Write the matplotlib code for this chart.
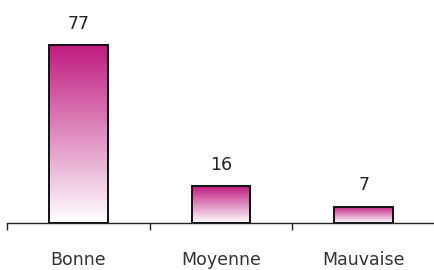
import numpy as np
import matplotlib
matplotlib.use("Agg")
import matplotlib.pyplot as plt
from matplotlib.colors import LinearSegmentedColormap

categories = ["Bonne", "Moyenne", "Mauvaise"]
values = [77, 16, 7]

top_color = "#C01B80"
cmap = LinearSegmentedColormap.from_list("grad", ["#FFFFFF", top_color])

fig = plt.figure(figsize=(4.35, 2.7), dpi=100)
ax = fig.add_axes([7 / 435, 47 / 270, 1 - 7 / 435, 223 / 270])

x = np.arange(len(categories))
bars = ax.bar(x, values, width=0.41, facecolor="none", edgecolor="#111111",
              linewidth=1.4, zorder=3)

# gradient fill, white at the bottom to magenta at the top of each bar
grad = np.linspace(0, 1, 256).reshape(-1, 1)
for b in bars:
    x0, w, h = b.get_x(), b.get_width(), b.get_height()
    im = ax.imshow(grad, cmap=cmap, origin="lower", aspect="auto",
                   extent=(x0, x0 + w, 0, h), zorder=2)
    im.set_clip_path(b)

for xi, v in zip(x, values):
    ax.annotate(str(v), (xi, v), xytext=(0, 9), textcoords="offset points",
                ha="center", va="bottom", fontsize=12.5, color="#222222")

ax.set_xlim(-0.5, 2.45)
ax.set_ylim(0, 96.5)

for s in ["top", "right", "left"]:
    ax.spines[s].set_visible(False)
ax.spines["bottom"].set_color("#222222")
ax.spines["bottom"].set_linewidth(1.0)
ax.set_yticks([])

ax.set_xticks(x)
ax.set_xticklabels(categories, fontsize=12.5, color="#333333")
ax.tick_params(axis="x", which="major", length=0, pad=20)
ax.set_xticks([-0.5, 0.5, 1.5, 2.5], minor=True)
ax.tick_params(axis="x", which="minor", length=5, width=1.0, color="#222222")

fig.savefig("out.png", dpi=100)
